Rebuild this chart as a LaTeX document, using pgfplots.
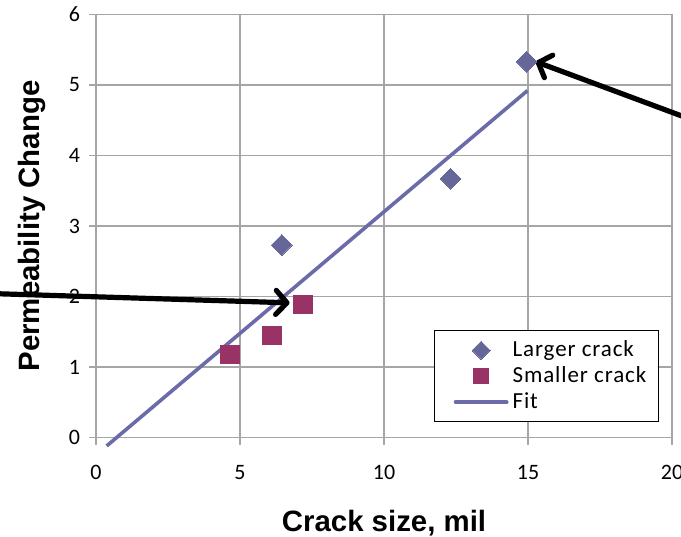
\documentclass[border=0pt]{standalone}
\usepackage{fontspec}
\setmainfont{Carlito}
\newfontfamily\labelfont{Liberation Sans}
\usepackage{pgfplots}
\pgfplotsset{compat=1.18}
\usetikzlibrary{arrows.meta}

\definecolor{larger}{HTML}{666699}
\definecolor{smaller}{HTML}{993366}
\definecolor{fitline}{HTML}{6B6BAA}
\definecolor{gridc}{HTML}{A6A6A6}

\begin{document}
\begin{tikzpicture}
\begin{axis}[
  scale only axis,
  width=288pt, height=211.5pt,
  xmin=0, xmax=20, ymin=0, ymax=6,
  xtick={0,5,10,15,20}, ytick={0,1,2,3,4,5,6},
  grid=major,
  major grid style={gridc, line width=0.7pt},
  axis line style={gridc, line width=0.7pt},
  tick style={gridc, line width=0.7pt},
  tick align=outside,
  major tick length=3.5pt,
  axis x line*=bottom, axis y line*=left,
  /pgf/number format/assume math mode=true,
  tick label style={font=\fontsize{11}{13}\selectfont, black},
  xticklabel style={yshift=-7pt},
  yticklabel style={xshift=-1pt},
  xlabel={\labelfont\bfseries\fontsize{14.7}{17}\selectfont Crack size, mil},
  ylabel={\labelfont\bfseries\fontsize{14.7}{17}\selectfont Permeability Change},
  xlabel style={yshift=-8pt},
  ylabel style={yshift=4.5pt},
  clip=false,
  legend cell align=left,
  legend style={
    at={(axis cs:19.54,0.22)}, anchor=south east,
    draw=black, line width=0.5pt,
    font=\fontsize{11.5}{13}\selectfont\addfontfeature{LetterSpace=4},
    row sep=-0.5pt,
    inner xsep=4pt, inner ysep=3pt,
  },
]
\addplot[only marks, mark=square*, mark size=3.65pt, mark options={rotate=45, fill=larger, draw=larger, line width=0pt},
  legend image code/.code={\path (-0.2cm,0cm);
    \draw[fill=larger, draw=larger, line width=0pt] plot[mark=square*, mark size=3.2pt, mark options={rotate=45}] coordinates {(0.45cm,0cm)};}]
  coordinates {(6.45,2.73) (12.31,3.67) (14.95,5.33)};
\addlegendentry{Larger crack}

\addplot[only marks, mark=square*, mark size=4.6pt, mark options={fill=smaller, draw=smaller, line width=0pt},
  legend image code/.code={\path (-0.2cm,0cm);
    \draw[fill=smaller, draw=smaller, line width=0pt] plot[mark=square*, mark size=3.6pt] coordinates {(0.45cm,0cm)};}]
  coordinates {(4.65,1.18) (6.11,1.45) (7.18,1.89)};
\addlegendentry{Smaller crack}

\addplot[fitline, line width=1.8pt, no marks,
  legend image code/.code={\path (-0.2cm,0cm);
    \draw[fitline, line width=1.8pt, line cap=round] (0cm,0cm) -- (0.9cm,0cm);}]
  coordinates {(0.37,-0.12) (14.98,4.92)};
\addlegendentry{Fit}

% annotation arrows
\draw[line width=2.6pt, line cap=round, -{Straight Barb[length=5.5pt, width=12pt, round]}]
  (axis cs:-3.5,2.04) -- (axis cs:6.72,1.91);
\draw[line width=2.6pt, line cap=round, -{Straight Barb[length=5.5pt, width=12pt, round]}]
  (axis cs:20.6,4.52) -- (axis cs:15.27,5.33);

\coordinate (bbsw) at (axis cs:-3.333,-1.41);
\coordinate (bbne) at (axis cs:20.31,6.205);
\end{axis}
\pgfresetboundingbox
\useasboundingbox (bbsw) rectangle (bbne);
\end{tikzpicture}
\end{document}
